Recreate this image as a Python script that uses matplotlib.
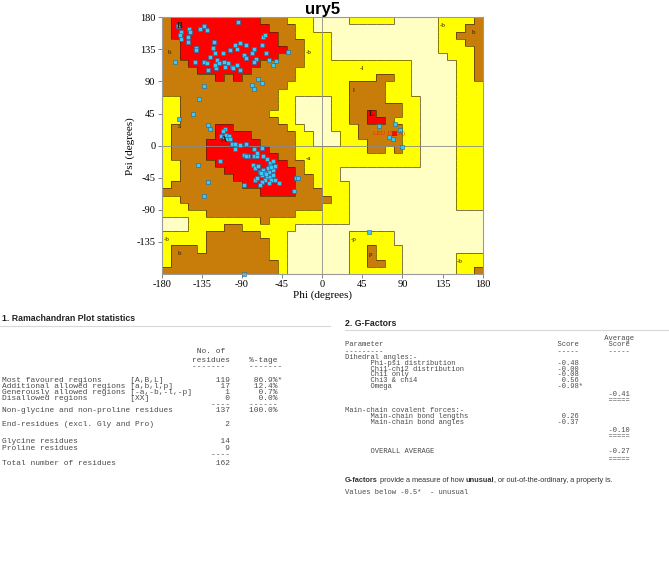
import matplotlib
matplotlib.use('Agg')
import matplotlib.pyplot as plt
import numpy as np
from matplotlib.colors import ListedColormap
from matplotlib.collections import LineCollection
from matplotlib.lines import Line2D

plt.rcParams['axes.unicode_minus'] = False

# region map in 10 deg cells; first row is psi 170..180, first column phi -180..-170
# R = most favoured, B = additional allowed, Y = generously allowed, W = disallowed
region_rows = [
    "BRRRRRRRRRRBBBYYYWWWWYYYYYWWWWWYYYYB",
    "BRRRRRRRRRRRBBBYYWWWWWWWWWWWWWWYYYBB",
    "BRRRRRRRRRRRRBBYYYYWWWWWWWWWWWWYYBBB",
    "BBRRRRRRRRRRRBBBYYYWWWWWWWWWWWWYYYBB",
    "BBRRRRRRRRRRRRBBYYYWWWWWWWWWWWWYYYYB",
    "BBRRRRRRRRRRRBBBYYYWWWWWWWWWWWWWYYYB",
    "BBBRRRRRRRRBBBBBYYYYYYYYYYYYWWWWWYYB",
    "BBBBRRRRRRBBBBBYYYYYYYYYYYYYWWWWWYYB",
    "BBBBBBRBRBBBBBBYYYYYYYYYBBYYWWWWWYYB",
    "BBBBBBBBBBBBBBYYYYYYYBBBBYYYWWWWWYYY",
    "BBBBBBBBBBBBBYYYYYYYYBBBBYYYWWWWWYYY",
    "YYBBBBBBBBBBBYYWWWWYYBBBBYYYYWWWWYYY",
    "YYBBBBBBBBBBBYYWWWWYYBBBBBBYYWWWWYYY",
    "YYBBBBBBBBBBYYYWWWWYYBBRBBBYYWWWWYYY",
    "YYBBBBBBBBBBBYYWWWWYYBBRRBYYYWWWWYYY",
    "YBBBBBRRBBBBBBYYWWWYYYBBBBBYYWWWWYYY",
    "YBBBBBRRRRBBBBBYYWWWYYBBBBBYYWWWWYYY",
    "YBBBBRRRRRRBBBBYYWWWYYYBBBBYYWWWWYYY",
    "YBBBBRRRRRRRBBBYYYYYYYYBBYBYYWWWWYYY",
    "YBBBBRRRRRRRRBBYYYYYYYYYYYYYYWWWWYYY",
    "YYBBBBRRRRRRRRBBYYYYYYYYYYYYYWWWWYYY",
    "YYBBBBBRRRRRRRRBYYYYWWWWWWWWWWWWWYYY",
    "YYBBBBBBRRRRRRRBBYYYWWWWWWWWWWWWWYYY",
    "YBBBBBBBBRRRRRRBBYYYYWWWWWWWWWWWWYYY",
    "BBBBBBBBBBBRRRRBBBYYYWWWWWWWWWWWWYYY",
    "YYBBBBBBBBBBBBBBBBBYYWWWWWWWWWWWWYYY",
    "YYYBBBBBBBBBBBBBBBYYYWWWWWWWWWWWWYYY",
    "YYYYYBBBBBBBBBBYYYYYYWWWWWWWWWWWWWWW",
    "WWWYYYYYYYYBYYYYYYYYYWWWWWWWWWWWWWWW",
    "WWWYYYYBBYYYYYYWWWWWWWWWWWWWWWWWWWWW",
    "YYYYYBBBBBBYYYWWWWWWWYYYYYWWWWWWWWWW",
    "YYYYYBBBBBBBYYWWWWWWWYYYYYWWWWWWWWWW",
    "YBBBYBBBBBBBYYWWWWWWWYYBYYYWWWWWWWWW",
    "YBBBBBBBBBBBYYWWWWWWWYYBYYYWWWWWWYYY",
    "YBBBBBBBBBBBBYWWWWWWWYYBBYYWWWWWWYYY",
    "BBBBBBBBBBBBBYWWWWWWWYYYYYYWWWWWWYYB",
]

# residues (phi, psi)
phi = [-162, -158, -159, -158, -149, -148, -150, -151, -141, -142, -165, -143,
       -137, -133, -129, -132, -129, -126, -128, -121, -122, -120, -118, -119,
       -120, -116, -111, -110, -103, -101, -100, -96, -94, -98, -92, -92, -96,
       -88, -86, -85, -79, -76, -74, -67, -66, -64, -63, -60, -55, -52, -38,
       -109, -77, -106,
       -72, -67, -79, -76, -133, -138, -145, -161, -128, -126,
       -109, -111, -113, -110, -108, -105, -107, -103, -101, -98, -92, -86, -98,
       -115, -139, -128, -133, -88, -75, -77, -73, -67, -88, -83, -78, -75, -72,
       -66, -62, -58, -55, -70, -66, -64, -60, -62, -67, -58, -55, -57, -64,
       -60, -68, -73, -53, -48, -70, -29, -27, -32, -77, -73, -85, -58, -55, -53,
       -63, -61, -69, -57,
       64, 82, 87, 75, 79, 90, 53, -88]
psi = [168, 160, 155, 150, 163, 159, 152, 145, 137, 134, 118, 118,
       163, 168, 162, 118, 116, 125, 106, 145, 137, 130, 120, 109,
       113, 116, 130, 118, 134, 111, 109, 135, 173, 141, 144, 106, 113,
       127, 123, 141, 130, 135, 121, 141, 153, 155, 130, 120, 113, 119, 132,
       111, 118, 116,
       94, 88, 85, 79, 84, 66, 45, 37, 29, 23,
       23, 20, 13, 12, 15, 13, 10, 9, 3, 2, 1, 3, -5,
       -21, -27, -51, -71, -55, -48, -15, -15, -3, -13, -15, -27, -32, -29,
       -15, -19, -25, -22, -37, -34, -39, -37, -44, -41, -44, -41, -48, -48,
       -52, -51, -46, -48, -53, -55, -46, -46, -63, -5, -11, -15, -29, -34, -29,
       -40, -32, -38, -30,
       28, 30, 22, 12, 9, -2, -121, -180]
flag_phi, flag_psi, flag_label = 80, 18, 'LEU 158(A)'

region_labels = [('B', -160, 168), ('b', -171, 130), ('a', -160, 27), ('A', -110, 8),
                 ('-b', -15, 131), ('-a', -15, -18), ('-l', 45, 108), ('l', 35, 78),
                 ('L', 56, 45), ('-p', 35, -132), ('p', 54, -153), ('-b', 135, 169),
                 ('b', 170, 159), ('-b', -174, -131), ('b', -160, -151), ('-b', 154, -163)]

# table values
stat_names = ['Most favoured regions', 'Additional allowed regions',
              'Generously allowed regions', 'Disallowed regions']
stat_codes = ['[A,B,L]', '[a,b,l,p]', '[-a,-b,-l,-p]', '[XX]']
stat_counts = [119, 17, 1, 0]
stat_pct = ['86.9%*', '12.4%', '0.7%', '0.0%']
nongly_count, nongly_pct = 137, '100.0%'
end_res = 2
gly_count, pro_count, total_count = 14, 9, 162

dihedral_names = ['Phi-psi distribution', 'Chi1-chi2 distribution', 'Chi1 only',
                  'Chi3 & chi4', 'Omega']
dihedral_scores = ['-0.48', '-0.00', '-0.08', '0.56', '-0.98*']
dihedral_avg = '-0.41'
covalent_names = ['Main-chain bond lengths', 'Main-chain bond angles']
covalent_scores = ['0.26', '-0.37']
covalent_avg = '-0.10'
overall_avg = '-0.27'

W, H = 669, 564
fig = plt.figure(figsize=(W / 100, H / 100), dpi=100)
fig.patch.set_facecolor('white')

def fx(x):
    return x / W

def fy(y):
    return 1 - y / H

ax = fig.add_axes([fx(161.7), fy(274), fx(482.7) - fx(161.7), fy(17.3) - fy(274)])

code = {'W': 0, 'Y': 1, 'B': 2, 'R': 3}
grid = np.array([[code[c] for c in row[:36].ljust(36, 'W')] for row in region_rows])[::-1]
edges = np.arange(-180, 181, 10)
cmap = ListedColormap(['#ffffc4', '#ffff00', '#c87d0a', '#ff0000'])
ax.pcolormesh(edges, edges, grid, cmap=cmap, vmin=-0.5, vmax=3.5)

segs = []
for j in range(36):
    for i in range(36):
        if i < 35 and grid[j, i] != grid[j, i + 1]:
            segs.append([(edges[i + 1], edges[j]), (edges[i + 1], edges[j + 1])])
        if j < 35 and grid[j, i] != grid[j + 1, i]:
            segs.append([(edges[i], edges[j + 1]), (edges[i + 1], edges[j + 1])])
ax.add_collection(LineCollection(segs, colors='#3a2800', linewidths=0.55, alpha=0.8))

ax.axhline(0, color='#8a8a8a', lw=0.6)
ax.axvline(0, color='#8a8a8a', lw=0.6)

for t, x, y in region_labels:
    big = t in ('A', 'B', 'L')
    ax.text(x, y, t, fontsize=6 if big else 5, family='Liberation Serif',
            color='#2a1a00', ha='center', va='center',
            fontweight='bold' if big else 'normal')

ax.plot(phi, psi, 's', ms=2.6, mfc='#3cc8f0', mec='#1a6aa8', mew=0.4, clip_on=False)
ax.plot([flag_phi], [flag_psi], 's', ms=2.8, mfc='#ff0000', mec='#b00000', mew=0.4)
ax.text(flag_phi - 23, flag_psi, flag_label, fontsize=4.5, color='#ff2000',
        family='Liberation Serif', ha='left', va='center')

ax.set_xlim(-180, 180)
ax.set_ylim(-180, 180)
ax.set_xticks(np.arange(-180, 181, 45))
ax.set_yticks(np.arange(-135, 181, 45))
ax.tick_params(labelsize=7.5, length=3, width=0.6, color='#707070', pad=1.5)
for lbl in ax.get_xticklabels() + ax.get_yticklabels():
    lbl.set_family('Liberation Serif')
for sp in ax.spines.values():
    sp.set_color('#9a9a9a')
    sp.set_linewidth(0.8)
ax.set_xlabel('Phi (degrees)', family='Liberation Serif', fontsize=8, labelpad=1)
ax.set_ylabel('Psi (degrees)', family='Liberation Serif', fontsize=8, labelpad=1)
ax.set_title('ury5', family='Liberation Sans', fontsize=12, fontweight='bold', pad=2)

# ---- left panel: Ramachandran statistics
mono = 'Liberation Mono'
tc = '#4a4a4a'
fig.text(fx(1.7), fy(318.3), '1. Ramachandran Plot statistics', family='Liberation Sans',
         fontsize=6.3, fontweight='bold', color='#222222', va='center')
fig.add_artist(Line2D([fx(0), fx(330)], [fy(325.5), fy(325.5)], color='#d8d8d8', lw=0.8))

left_lines = [
    (351.7, ' ' * 41 + 'No. of'),
    (360.0, ' ' * 40 + 'residues' + ' ' * 4 + '%-tage'),
    (366.7, ' ' * 40 + '-' * 7 + ' ' * 5 + '-' * 7),
]
ys = [380, 386, 392.3, 398.3]
for k in range(4):
    p = stat_pct[k]
    star = '*' if p.endswith('*') else ''
    left_lines.append((ys[k], f"{stat_names[k]:<27}{stat_codes[k]:<14}{stat_counts[k]:>7}"
                              f"{p.rstrip('*'):>10}{star}"))
left_lines += [
    (404.3, ' ' * 44 + '----' + ' ' * 4 + '-' * 6),
    (411.0, f"{'Non-glycine and non-proline residues':<41}{nongly_count:>7}{nongly_pct:>10}"),
    (425.0, f"{'End-residues (excl. Gly and Pro)':<41}{end_res:>7}"),
    (441.7, f"{'Glycine residues':<41}{gly_count:>7}"),
    (448.3, f"{'Proline residues':<41}{pro_count:>7}"),
    (455.0, ' ' * 44 + '----'),
    (463.3, f"{'Total number of residues':<41}{total_count:>7}"),
]
for y, s in left_lines:
    fig.text(fx(1.7), fy(y), s, family=mono, fontsize=5.7, color=tc, va='center')

# ---- right panel: G-factors
fig.text(fx(345), fy(323.3), '2. G-Factors', family='Liberation Sans',
         fontsize=6.3, fontweight='bold', color='#222222', va='center')
fig.add_artist(Line2D([fx(345), fx(669)], [fy(329.5), fy(329.5)], color='#d8d8d8', lw=0.8))


def score_field(s, width=5):
    star = '*' if s.endswith('*') else ''
    return f"{s.rstrip('*'):>{width}}{star}"


right_lines = [
    (338.3, ' ' * 61 + 'Average'),
    (345.0, f"{'Parameter':<50}Score{' ' * 7}Score"),
    (351.7, '-' * 9 + ' ' * 41 + '-----' + ' ' * 7 + '-----'),
    (357.3, 'Dihedral angles:-'),
]
ys = [363.3, 369.3, 375.0, 380.7, 386.7]
for k in range(5):
    right_lines.append((ys[k], ' ' * 6 + f"{dihedral_names[k]:<44}" + score_field(dihedral_scores[k])))
right_lines += [
    (394.3, ' ' * 62 + dihedral_avg),
    (400.0, ' ' * 62 + '====='),
    (410.0, 'Main-chain covalent forces:-'),
]
ys = [416.7, 422.3]
for k in range(2):
    right_lines.append((ys[k], ' ' * 6 + f"{covalent_names[k]:<44}" + score_field(covalent_scores[k])))
right_lines += [
    (430.0, ' ' * 62 + covalent_avg),
    (436.7, ' ' * 62 + '====='),
    (451.7, ' ' * 6 + f"{'OVERALL AVERAGE':<56}" + overall_avg),
    (459.3, ' ' * 62 + '====='),
    (492.7, 'Values below -0.5*  - unusual'),
]
for y, s in right_lines:
    fig.text(fx(345), fy(y), s, family=mono, fontsize=5.17, color=tc, va='center')

# mixed bold / normal sentence
pieces = [('G-factors', 'bold'), (' provide a measure of how ', 'normal'), ('unusual', 'bold'),
          (', or out-of-the-ordinary, a property is.', 'normal')]
renderer = fig.canvas.get_renderer()
x = fx(345)
for s, w in pieces:
    t = fig.text(x, fy(480), s, family='Liberation Sans', fontsize=5.3, fontweight=w,
                 color='#333333', va='center')
    bb = t.get_window_extent(renderer=renderer)
    x += bb.width / (W)

fig.savefig('out.png', dpi=100)
